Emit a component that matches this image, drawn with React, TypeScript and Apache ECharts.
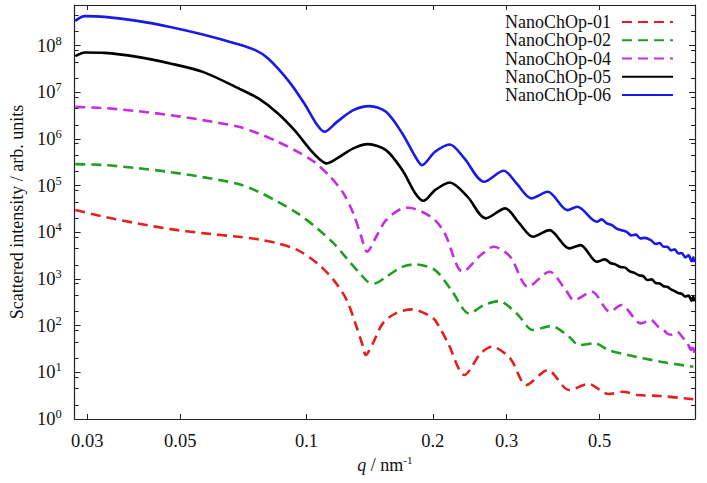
import React, { useEffect, useRef } from 'react';
import * as echarts from 'echarts';

const FONT = 'Liberation Serif';

const seriesNames = ['NanoChOp-01', 'NanoChOp-02', 'NanoChOp-04', 'NanoChOp-05', 'NanoChOp-06'];
const seriesColors = ['#e3201c', '#1f9e1f', '#c22ee0', '#000000', '#1a1ae6'];
const seriesDashed = [true, true, true, false, false];

const qTickValues = [0.03, 0.05, 0.1, 0.2, 0.3, 0.5];
const yMajorValues = [1, 1e1, 1e2, 1e3, 1e4, 1e5, 1e6, 1e7, 1e8];
const yMinorFactors = [2, 4.5, 8];

const nanoChOp01: [number, number][] = [
  [0.0281, 2.99e4], [0.033, 2.15e4], [0.0395, 1.55e4], [0.0473, 1.17e4], [0.0566, 9.6e3],
  [0.0689, 8.0e3], [0.0768, 7.05e3], [0.0855, 5.78e3], [0.0953, 4.16e3], [0.1061, 2.16e3],
  [0.1161, 947], [0.1247, 353], [0.1316, 94.7], [0.1364, 35.3], [0.1384, 23.5], [0.144, 41.8],
  [0.152, 112], [0.1632, 183], [0.1786, 223], [0.1953, 169], [0.2025, 132], [0.2176, 41.8],
  [0.2379, 8.75], [0.2604, 25.5], [0.2772, 35.3], [0.306, 19.9], [0.3345, 5.35], [0.3761, 11.2],
  [0.4227, 4.18], [0.4709, 5.62], [0.5244, 3.43], [0.5684, 3.84], [0.6163, 3.26], [0.6989, 3.11],
  [0.8364, 2.64],
];

const nanoChOp02: [number, number][] = [
  [0.0281, 2.89e5], [0.033, 2.75e5], [0.0395, 2.37e5], [0.0473, 1.95e5], [0.0566, 1.52e5],
  [0.0689, 1.08e5], [0.0768, 7.36e4], [0.0855, 4.5e4], [0.0953, 2.54e4], [0.1061, 1.21e4],
  [0.1161, 5.78e3], [0.1247, 2.76e3], [0.134, 1.32e3], [0.1401, 871], [0.1453, 805], [0.1547, 1.11e3],
  [0.1692, 1.82e3], [0.1818, 2.05e3], [0.2025, 1.55e3], [0.2215, 578], [0.2444, 183], [0.2651, 276],
  [0.2873, 336], [0.317, 183], [0.3469, 80.5], [0.3829, 98], [0.4227, 57.8], [0.4462, 38.4],
  [0.488, 41.8], [0.5244, 30], [0.584, 23.5], [0.6989, 16.9], [0.8364, 13.2],
];

const nanoChOp04: [number, number][] = [
  [0.0281, 4.87e6], [0.033, 4.57e6], [0.0395, 3.94e6], [0.0473, 3.24e6], [0.0566, 2.53e6],
  [0.0689, 1.82e6], [0.0768, 1.31e6], [0.0855, 8.67e5], [0.0953, 5.3e5], [0.1042, 3.24e5],
  [0.114, 1.54e5], [0.1225, 6.81e4], [0.1293, 2.54e4], [0.1351, 8.01e3], [0.1394, 3.82e3],
  [0.1466, 8.01e3], [0.1547, 1.82e4], [0.1692, 3.25e4], [0.1753, 3.35e4], [0.1885, 2.75e4],
  [0.2025, 1.82e4], [0.2137, 9.47e3], [0.2358, 1.43e3], [0.2604, 3.25e3], [0.2797, 4.89e3],
  [0.306, 2.99e3], [0.3376, 681], [0.3796, 1.43e3], [0.4151, 578], [0.4343, 353], [0.4793, 532],
  [0.529, 199], [0.5632, 276], [0.6273, 112], [0.6622, 132], [0.69, 95], [0.705, 88], [0.7246, 68],
  [0.74, 64], [0.7646, 74], [0.79, 55], [0.81, 42], [0.825, 30], [0.832, 40], [0.84, 26],
];

const nanoChOp05: [number, number][] = [
  [0.0281, 5.93e7], [0.0296, 7.11e7], [0.033, 6.98e7], [0.0395, 5.73e7], [0.0473, 4.14e7],
  [0.0566, 2.73e7], [0.0689, 1.21e7], [0.0768, 7.36e6], [0.0855, 3.52e6], [0.0936, 1.54e6],
  [0.1023, 5.75e5], [0.108, 3.52e5], [0.1115, 2.99e5], [0.1182, 3.82e5], [0.1293, 6.26e5],
  [0.1401, 7.74e5], [0.1547, 5.75e5], [0.1692, 2.15e5], [0.1818, 6.81e4], [0.1901, 4.73e4],
  [0.2025, 8.01e4], [0.2196, 1.17e5], [0.2422, 5.75e4], [0.2675, 1.99e4], [0.2979, 3.25e4],
  [0.32, 1.65e4], [0.3469, 8.01e3], [0.3796, 1.11e4], [0.4227, 4.52e3], [0.4501, 5.32e3],
  [0.4924, 2.34e3], [0.5149, 2.63e3], [0.53, 2.2e3], [0.545, 2.05e3], [0.56, 1.8e3], [0.575, 1.75e3],
  [0.59, 1.45e3], [0.6051, 1.35e3], [0.62, 1.2e3], [0.635, 1.15e3], [0.65, 950], [0.665, 980],
  [0.68, 820], [0.695, 800], [0.71, 700], [0.7246, 680], [0.74, 600], [0.755, 550], [0.77, 500],
  [0.785, 480], [0.8, 420], [0.815, 440], [0.828, 340], [0.836, 420], [0.84, 330],
];

const nanoChOp06: [number, number][] = [
  [0.0281, 3.38e8], [0.0296, 4.27e8], [0.033, 4.12e8], [0.0395, 3.38e8], [0.0473, 2.51e8],
  [0.0566, 1.73e8], [0.0677, 1.11e8], [0.0755, 7.97e7], [0.081, 5.3e7], [0.0903, 1.82e7],
  [0.0988, 5.75e6], [0.1061, 1.98e6], [0.1103, 1.42e6], [0.1182, 2.32e6], [0.1293, 4.14e6],
  [0.1414, 5.04e6], [0.1547, 3.8e6], [0.1692, 1.31e6], [0.1818, 4.14e5], [0.1885, 2.75e5],
  [0.2025, 5.3e5], [0.2196, 7.62e5], [0.2379, 3.82e5], [0.2651, 1.21e5], [0.2952, 2.08e5],
  [0.317, 1.11e5], [0.3437, 5.32e4], [0.3761, 7.36e4], [0.4189, 2.99e4], [0.4422, 3.52e4],
  [0.4924, 1.68e4], [0.5058, 1.89e4], [0.52, 1.55e4], [0.535, 1.42e4], [0.55, 1.18e4],
  [0.5632, 1.11e4], [0.58, 1.02e4], [0.595, 8.6e3], [0.61, 8.9e3], [0.625, 7.4e3], [0.64, 7.6e3],
  [0.662, 6.8e3], [0.68, 5.6e3], [0.695, 5.9e3], [0.71, 4.9e3], [0.7246, 4.9e3], [0.74, 4.1e3],
  [0.755, 4.3e3], [0.77, 3.5e3], [0.785, 3.6e3], [0.8, 2.9e3], [0.815, 3.2e3], [0.828, 2.4e3],
  [0.836, 2.9e3], [0.84, 2.3e3],
];

const allData = [nanoChOp01, nanoChOp02, nanoChOp04, nanoChOp05, nanoChOp06];

const X_MIN = 0.028;
const X_MAX = 0.844;
const Y_MIN = 1;
const Y_MAX = 7.4e8;

export default function App() {
  const ref = useRef<HTMLDivElement>(null);
  useEffect(() => {
    if (!ref.current) return;
    const chart = echarts.init(ref.current, undefined, { renderer: 'svg' });
    const yMinor: number[] = [];
    yMajorValues.forEach((d) => yMinorFactors.forEach((f) => { if (d * f < Y_MAX) yMinor.push(d * f); }));
    const frame = { show: true, lineStyle: { color: '#222', width: 1.2 } };
    const baseX = { type: 'log', logBase: 10, min: X_MIN, max: X_MAX, splitLine: { show: false } };
    const baseY = { type: 'log', logBase: 10, min: Y_MIN, max: Y_MAX, splitLine: { show: false } };
    const option: any = {
      animation: false,
      backgroundColor: '#fff',
      grid: { left: 63, right: 12, top: 5, bottom: 64, containLabel: false },
      legend: {
        orient: 'vertical', right: 33, top: 13, align: 'right', itemWidth: 51, itemHeight: 12,
        itemGap: 0, padding: 0, data: seriesNames,
        itemStyle: { opacity: 0 },
        textStyle: { fontFamily: FONT, fontSize: 18, color: '#111', lineHeight: 18.2, padding: [0, 6, 0, 0] },
      },
      xAxis: [
        {
          ...baseX, position: 'bottom', axisLine: frame,
          axisTick: { inside: true, length: 5, customValues: qTickValues, lineStyle: { color: '#222' } },
          axisLabel: {
            customValues: qTickValues, margin: 12, fontFamily: FONT, fontSize: 18.5, color: '#111',
            formatter: (v: number) => String(+Number(v).toPrecision(3)),
          },
          name: '{i|q} / nm{s|-1}', nameLocation: 'middle', nameGap: 34,
          nameTextStyle: {
            fontFamily: FONT, fontSize: 18, color: '#111',
            rich: {
              i: { fontFamily: FONT, fontSize: 18, fontStyle: 'italic', color: '#111' },
              s: { fontFamily: FONT, fontSize: 11, color: '#111', padding: [0, 0, 9, 0] },
            },
          },
        },
        {
          ...baseX, position: 'top', axisLine: frame,
          axisTick: { inside: true, length: 5, customValues: qTickValues, lineStyle: { color: '#222' } },
          axisLabel: { show: false },
        },
      ],
      yAxis: [
        {
          ...baseY, position: 'left', axisLine: frame,
          axisTick: { inside: true, length: 6, customValues: yMajorValues, lineStyle: { color: '#222' } },
          axisLabel: {
            customValues: yMajorValues, margin: 13, fontFamily: FONT, fontSize: 18.5, color: '#111',
            formatter: (v: number) => '{b|10}{s|' + Math.round(Math.log10(v)) + '}',
            rich: {
              b: { fontFamily: FONT, fontSize: 18.5, color: '#111' },
              s: { fontFamily: FONT, fontSize: 12.5, color: '#111', padding: [0, 0, 10, 0] },
            },
          },
          name: 'Scattered intensity / arb. units', nameLocation: 'middle', nameGap: 46,
          nameTextStyle: { fontFamily: FONT, fontSize: 18, color: '#111' },
        },
        {
          ...baseY, position: 'right', axisLine: frame,
          axisTick: { inside: true, length: 6, customValues: yMajorValues, lineStyle: { color: '#222' } },
          axisLabel: { show: false },
        },
        {
          ...baseY, position: 'left', axisLine: { show: false },
          axisTick: { inside: true, length: 4, customValues: yMinor, lineStyle: { color: '#222' } },
          axisLabel: { show: false },
        },
        {
          ...baseY, position: 'right', axisLine: { show: false },
          axisTick: { inside: true, length: 4, customValues: yMinor, lineStyle: { color: '#222' } },
          axisLabel: { show: false },
        },
      ],
      series: seriesNames.map((name, i) => ({
        name, type: 'line', xAxisIndex: 0, yAxisIndex: 0, data: allData[i],
        symbol: 'none', showSymbol: false, smooth: 0.3,
        lineStyle: { color: seriesColors[i], width: 2.6, type: seriesDashed[i] ? [10, 6] : 'solid' },
        itemStyle: { color: seriesColors[i] },
      })),
    };
    chart.setOption(option);
    return () => chart.dispose();
  }, []);
  return <div ref={ref} style={{ position: 'fixed', left: 0, top: 0, width: 707, height: 483, background: '#fff' }} />;
}
